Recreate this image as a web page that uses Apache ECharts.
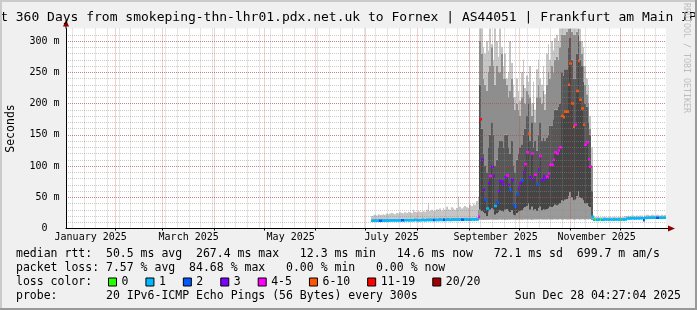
<!DOCTYPE html>
<html><head><meta charset="utf-8">
<script src="https://cdn.jsdelivr.net/npm/echarts@6/dist/echarts.min.js"></script>
<style>html,body{margin:0;padding:0;background:#f0f0f0;}#c{width:697px;height:310px;}</style>
</head><body><div id="c"></div>
<script>
// ---------------- data (x unit: days since 2025-01-02 04:27:04, range 360 days) ----------------
const titleText = 'Last 360 Days from smokeping-thn-lhr01.pdx.net.uk to Fornex | AS44051 | Frankfurt am Main IPv6';
const monthLabels = ['January 2025','March 2025','May 2025','July 2025','September 2025','November 2025'];
const labelDays   = [14.8, 73.6, 134.8, 195.4, 257.8, 318.4];
const monthStarts = [29.81, 57.81, 88.81, 118.81, 149.81, 179.81, 210.81, 241.81, 271.81, 302.81, 332.81];
const firstMonday = 3.81;
const yLabelValues = [0, 50, 100, 150, 200, 250, 300];

const firstDay = 183; // first day with data (early July)

// period 1 (days 183-247): good
const medG1 = [12.4,12.3,12.5,12.4,12.6,12.3,12.5,12.4,12.6,12.5,
  12.8,13.0,12.9,13.1,13.0,12.9,13.2,13.0,13.1,13.0,
  13.2,13.3,13.1,13.4,13.2,13.3,13.5,13.2,13.4,13.3,
  13.5,13.6,13.4,13.7,13.5,13.6,13.8,13.5,13.7,13.6,
  13.8,13.9,13.7,14.0,13.8,13.9,14.1,13.8,14.0,13.9,
  14.1,14.2,14.0,14.3,14.1,14.2,14.4,14.1,14.3,14.2,
  14.4,14.5,14.3,14.6,19.0];
const minG1 = [11.6,11.5,11.7,11.6,11.8,11.5,11.7,11.6,11.8,11.7,
  12.0,12.2,12.1,12.3,12.2,12.1,12.4,12.2,12.3,12.2,
  12.4,12.5,12.3,12.6,12.4,12.5,12.7,12.4,12.6,12.5,
  12.7,12.8,12.6,12.9,12.7,12.8,13.0,12.7,12.9,12.8,
  13.0,13.1,12.9,13.2,13.0,13.1,13.3,13.0,13.2,13.1,
  13.3,13.4,13.2,13.5,13.3,13.4,13.6,13.3,13.5,13.4,
  13.6,13.7,13.5,13.8,14.0];
const midG1 = [15.0,14.9,15.2,15.0,15.3,14.9,15.1,15.0,15.3,15.1,
  15.4,15.7,15.5,15.8,15.6,15.5,15.9,15.6,15.8,15.6,
  15.9,16.0,15.7,16.1,15.9,16.0,16.3,15.9,16.1,16.0,
  16.2,16.4,16.1,16.5,16.3,16.4,16.6,16.2,16.5,16.4,
  16.6,16.8,16.5,16.9,16.6,16.8,17.0,16.6,16.9,16.8,
  17.0,17.1,16.9,17.3,17.0,17.2,17.5,17.0,17.3,17.2,
  17.5,17.7,17.4,18.0,30.0];
const topG1 = [20,21,22,21,23,22,22,23,22,24,
  23,24,25,24,23,25,24,26,25,24,
  26,25,27,26,25,30,27,26,28,27,
  26,28,27,30,41,28,30,28,29,31,
  30,32,29,33,30,35,31,30,34,32,
  30,33,51,35,32,34,36,34,33,38,
  36,40,38,44,51];
const lossG1 = [1,1,1,1,1,2,1,1,1,1,
  1,1,1,1,1,1,1,1,2,1,
  1,1,1,1,1,1,1,1,1,1,
  1,1,1,1,1,1,1,2,1,1,
  1,1,1,2,1,1,1,1,1,1,
  1,1,1,1,2,1,1,1,1,1,
  1,1,1,1,5];

// period 2 (days 248-315): heavy jitter
const medBad = [175,110,62,46,32,73,84,99,84,36,
  42,60,76,75,70,82,85,70,62,78,
  39,35,55,65,73,77,90,103,122,152,
  82,120,78,86,71,95,116,78,84,80,
  83,88,102,102,110,122,120,125,130,180,
  178,187,187,230,264,200,163,166,220,268,
  206,192,166,134,138,111,99,19];
const minBad = [14,14,13.8,14.2,13.9,14.1,14,14.3,14.1,13.9,
  14.2,14,14.3,14.1,14.4,14.2,14,14.3,14.1,14.5,
  14.2,14.4,14.1,14.3,14.5,14.2,14.4,14.6,14.3,14.5,
  14.4,14.2,14.6,14.3,14.5,14.4,14.7,14.5,14.3,14.6,
  14.4,14.7,14.5,14.3,14.6,14.8,14.5,14.4,14.7,14.6,
  14.5,14.8,14.6,14.4,14.7,14.9,14.6,14.5,14.8,14.7,
  14.6,14.9,14.7,14.5,14.8,14.6,14.9,13.6];
const loBad = [30,28,26,24,20,27,30,32,30,22,
  24,26,29,28,27,30,31,28,26,29,
  22,21,25,27,28,29,32,34,36,40,
  30,35,29,31,28,33,35,29,31,30,
  31,32,35,34,36,38,37,38,40,45,
  44,46,47,52,58,50,45,46,52,60,
  50,48,45,40,40,36,34,17];
const hi1Bad = [230,160,120,100,90,130,150,170,150,100,
  110,130,140,140,130,150,150,130,120,140,
  100,90,110,120,130,135,150,160,180,200,
  140,170,130,140,125,150,170,140,145,140,
  145,150,165,165,175,190,190,195,200,250,
  245,255,255,290,305,270,240,240,280,310,
  270,260,235,200,195,170,150,60];
const hi2Bad = [300,280,240,230,220,250,260,290,260,230,
  260,250,250,280,240,240,230,210,220,240,
  210,190,200,190,180,210,230,200,220,215,
  210,180,200,170,210,230,210,200,220,190,
  230,250,240,260,250,270,275,270,290,310,
  310,310,315,320,320,315,310,310,315,320,
  300,280,260,230,215,200,160,100];
const maxBad = [330,330,290,280,300,285,330,295,270,330,
  300,275,330,290,260,280,240,250,300,265,
  230,210,240,220,205,250,270,225,245,235,
  260,200,235,190,255,270,240,230,260,215,
  280,295,270,300,285,305,310,300,330,330,
  330,330,330,330,330,330,330,330,330,330,
  320,300,290,260,240,230,180,130];
const lossBad = [12,3,3,2,1,3,4,3,3,1,
  2,3,3,3,3,3,5,3,2,3,
  2,2,2,3,3,2,3,5,4,7,
  3,5,3,4,2,3,5,3,3,3,
  4,4,5,5,5,5,5,5,5,7,
  7,8,8,8,9,8,7,5,7,9,
  8,7,6,5,5,5,4,1];

// period 3 (days 316-359): good
const medG2 = [14.2,14.3,14.2,14.4,14.3,14.2,14.3,14.4,14.3,14.2,
  14.3,14.4,14.3,14.5,14.4,14.3,14.4,14.5,14.4,14.6,
  16.2,16.3,16.2,16.4,16.3,16.2,16.4,16.3,16.4,16.5,
  13.2,16.8,17.2,17.3,17.2,17.4,17.3,17.2,17.4,17.3,
  17.2,17.4,17.3,17.2];
const minG2 = [13.4,13.5,13.4,13.6,13.5,13.4,13.5,13.6,13.5,13.4,
  13.5,13.6,13.5,13.7,13.6,13.5,13.6,13.7,13.6,13.8,
  15.4,15.5,15.4,15.6,15.5,15.4,15.6,15.5,15.6,15.7,
  12.4,16.0,16.4,16.5,16.4,16.6,16.5,16.4,16.6,16.5,
  16.4,16.6,16.5,16.4];
const midG2 = [15.8,15.9,15.8,16.0,15.9,15.8,15.9,16.0,15.9,15.8,
  15.9,16.0,15.9,16.1,16.0,15.9,16.0,16.1,16.0,16.2,
  17.8,17.9,17.8,18.0,17.9,17.8,18.0,17.9,18.0,18.1,
  14.8,18.4,18.8,18.9,18.8,19.0,18.9,18.8,19.0,18.9,
  18.8,19.0,18.9,18.8];
const topG2 = [18,19,18,19,18,18,19,19,18,18,
  19,18,19,19,18,19,19,18,19,20,
  20,21,20,21,21,20,21,20,21,21,
  17,21,22,22,21,22,22,21,22,22,
  21,22,21,22];
const lossG2 = [1,0,1,1,0,1,1,1,1,0,
  1,1,1,1,1,1,0,1,1,1,
  1,1,1,1,1,1,1,1,1,1,
  2,1,1,1,1,1,1,1,2,1,
  1,1,0,1];

const lossCats = [
  {name:'0', lo:0, hi:0, color:'#26ff00'},
  {name:'1', lo:1, hi:1, color:'#00b8ff'},
  {name:'2', lo:2, hi:2, color:'#0059ff'},
  {name:'3', lo:3, hi:3, color:'#7e00ff'},
  {name:'4-5', lo:4, hi:5, color:'#ff00ff'},
  {name:'6-10', lo:6, hi:10, color:'#ff5500'},
  {name:'11-19', lo:11, hi:19, color:'#ff0000'},
  {name:'20/20', lo:20, hi:20, color:'#a10000'}
];

const statsLine1 = 'median rtt:  50.5 ms avg  267.4 ms max   12.3 ms min   14.6 ms now   72.1 ms sd  699.7 m am/s';
const statsLine2 = 'packet loss: 7.57 % avg  84.68 % max   0.00 % min   0.00 % now';
const lossLabel  = 'loss color:';
const probeLine  = 'probe:       20 IPv6-ICMP Echo Pings (56 Bytes) every 300s';
const dateLine   = 'Sun Dec 28 04:27:04 2025';

// ---------------- build ----------------
const MONO = "'DejaVu Sans Mono', monospace";
const smokeColors = ['#9a9a9a', '#454545', '#575757', '#8e8e8e', '#c6c6c6'];

const smokeRows = [];
const medRows = [];
function addGood(med, mn, mid, top, loss, start) {
  for (let i = 0; i < med.length; i++) {
    smokeRows.push([start + i, mn[i], med[i], med[i], med[i], mid[i], top[i]]);
    medRows.push([start + i, med[i], loss[i]]);
  }
}
addGood(medG1, minG1, midG1, topG1, lossG1, firstDay);
for (let i = 0; i < medBad.length; i++) {
  const d = firstDay + medG1.length + i;
  smokeRows.push([d, minBad[i], loBad[i], medBad[i], hi1Bad[i], hi2Bad[i], maxBad[i]]);
  medRows.push([d, medBad[i], lossBad[i]]);
}
addGood(medG2, minG2, midG2, topG2, lossG2, firstDay + medG1.length + medBad.length);

const weekTicks = [];
for (let t = firstMonday; t < 360; t += 7) weekTicks.push(t);
const minorY = []; for (let v = 10; v <= 310; v += 10) minorY.push(v);

function smokeItem(params, api) {
  const d = api.value(0);
  const xa = Math.round(api.coord([d, 0])[0]);
  const xb = Math.round(api.coord([d + 1, 0])[0]);
  const children = [];
  for (let k = 0; k < 5; k++) {
    const v0 = api.value(k + 1), v1 = api.value(k + 2);
    if (!(v1 > v0)) continue;
    const y0 = api.coord([d, v0])[1], y1 = api.coord([d, v1])[1];
    children.push({type:'rect', shape:{x:xa, y:y1, width:xb - xa, height:y0 - y1}, style:{fill:smokeColors[k]}});
  }
  return {type:'group', children};
}
function medItem(params, api) {
  const d = api.value(0), v = api.value(1);
  const xa = Math.round(api.coord([d, 0])[0]);
  const xb = Math.round(api.coord([d + 1, 0])[0]);
  const y = api.coord([d, v])[1];
  return {type:'rect', shape:{x:xa, y:y - 1.25, width:xb - xa + 1, height:2.5}, style:{fill:api.visual('color')}};
}

const series = [{
  type:'custom', name:'smoke', renderItem:smokeItem, data:smokeRows, clip:true,
  xAxisIndex:2, yAxisIndex:1, dimensions:['d','min','lo','med','hi1','hi2','max'],
  encode:{x:0, y:[1,6]}, silent:true, z:2
}];
lossCats.forEach(c => {
  series.push({
    type:'custom', name:c.name, renderItem:medItem, clip:true, xAxisIndex:2, yAxisIndex:1,
    itemStyle:{color:c.color}, z:2, silent:true,
    encode:{x:0, y:1},
    data: medRows.filter(r => r[2] >= c.lo && r[2] <= c.hi).map(r => [r[0], r[1]])
  });
});

const minorGrid = {color:'rgba(140,140,140,0.45)', width:1, type:[1,1]};
const majorGrid = {color:'rgba(200,40,40,0.45)', width:1, type:[1,1]};

const chart = echarts.init(document.getElementById('c'), null, {renderer:'canvas'});
const option = {
  animation:false,
  backgroundColor:'#f0f0f0',
  grid:{left:66, right:31, top:28.5, bottom:81.5, show:true, backgroundColor:'#ffffff', borderWidth:0, containLabel:false, outerBoundsMode:'none'},
  legend:{
    left:108, top:276, padding:0, itemWidth:8, itemHeight:8, itemGap:17, icon:'rect', selectedMode:false,
    data: lossCats.map(c => c.name),
    itemStyle:{borderColor:'#000', borderWidth:1},
    textStyle:{fontFamily:MONO, fontSize:11.5, color:'#000', padding:[0,0,0,0]}
  },
  xAxis:[
    {type:'value', min:0, max:360, position:'bottom', z:3,
     axisLine:{show:false}, axisLabel:{show:false},
     axisTick:{show:false, customValues:weekTicks},
     splitLine:{show:true, lineStyle:minorGrid}},
    {type:'value', min:0, max:360, position:'bottom', z:3,
     axisLine:{show:false}, axisLabel:{show:false},
     axisTick:{show:true, length:2, customValues:monthStarts, lineStyle:{color:'#000'}},
     splitLine:{show:true, lineStyle:majorGrid}},
    {type:'value', min:0, max:360, position:'bottom', z:3,
     axisLine:{show:true, onZero:false, lineStyle:{color:'#000', width:1}},
     axisTick:{show:false},
     splitLine:{show:false},
     axisLabel:{show:true, customValues:labelDays, margin:4, color:'#000', fontFamily:MONO, fontSize:10,
       formatter:(v) => { let bi = 0, bd = 1e9; labelDays.forEach((x, i) => { if (Math.abs(x - v) < bd) { bd = Math.abs(x - v); bi = i; } }); return monthLabels[bi]; }}}
  ],
  yAxis:[
    {type:'value', min:0, max:320, position:'left', z:3,
     axisLine:{show:false}, axisLabel:{show:false},
     axisTick:{show:false, customValues:minorY},
     splitLine:{show:true, lineStyle:minorGrid}},
    {type:'value', min:0, max:320, position:'left', z:3,
     name:'Seconds', nameLocation:'middle', nameGap:49, nameRotate:90,
     nameTextStyle:{fontFamily:MONO, fontSize:11.5, color:'#000'},
     axisLine:{show:true, onZero:false, lineStyle:{color:'#000', width:1}},
     axisTick:{show:false, customValues:yLabelValues.slice(1)},
     splitLine:{show:true, lineStyle:majorGrid},
     axisLabel:{show:true, customValues:yLabelValues, margin:6.5, color:'#000', fontFamily:MONO, fontSize:10,
       formatter:(v) => v === 0 ? '0  ' : (v + ' m')}}
  ],
  series: series
};
chart.setOption(option);

// decorations derived from the grid geometry
const p00 = chart.convertToPixel({xAxisIndex:2, yAxisIndex:1}, [0, 0]);
const p11 = chart.convertToPixel({xAxisIndex:2, yAxisIndex:1}, [360, 320]);
const xl = p00[0], yb = p00[1], xr = p11[0], yt = p11[1];
const W = 697, H = 310;
const graphics = [
  {type:'line', shape:{x1:xr, y1:yb, x2:xr + 3, y2:yb}, style:{stroke:'#000', lineWidth:1}, z:10},
  {type:'polygon', shape:{points:[[xr + 2, yb - 3], [xr + 9, yb], [xr + 2, yb + 3]]}, style:{fill:'#8b0000'}, z:10},
  {type:'line', shape:{x1:xl, y1:yt, x2:xl, y2:yt - 3}, style:{stroke:'#000', lineWidth:1}, z:10},
  {type:'polygon', shape:{points:[[xl - 3, yt - 2], [xl, yt - 9], [xl + 3, yt - 2]]}, style:{fill:'#8b0000'}, z:10},
  {type:'text', x:W / 2 - 4, y:18, style:{text:titleText, font:'13px ' + MONO, fill:'#000', align:'center', verticalAlign:'middle'}, z:10},
  {type:'text', x:686, y:3, rotation:-Math.PI / 2, style:{text:'RRDTOOL / TOBI OETIKER', font:'8.3px ' + MONO, fill:'#bdbdbd', align:'left', verticalAlign:'middle'}, z:10},
  {type:'text', x:16, y:254, style:{text:statsLine1, font:'11.5px ' + MONO, fill:'#000', align:'left', verticalAlign:'middle'}, z:10},
  {type:'text', x:16, y:268, style:{text:statsLine2, font:'11.5px ' + MONO, fill:'#000', align:'left', verticalAlign:'middle'}, z:10},
  {type:'text', x:16, y:282, style:{text:lossLabel, font:'11.5px ' + MONO, fill:'#000', align:'left', verticalAlign:'middle'}, z:10},
  {type:'text', x:16, y:296, style:{text:probeLine, font:'11.5px ' + MONO, fill:'#000', align:'left', verticalAlign:'middle'}, z:10},
  {type:'text', x:681, y:296, style:{text:dateLine, font:'11.5px ' + MONO, fill:'#000', align:'right', verticalAlign:'middle'}, z:10},
  {type:'rect', shape:{x:0, y:0, width:W, height:2}, style:{fill:'#cbcbcb'}, z:11},
  {type:'rect', shape:{x:0, y:0, width:2, height:H}, style:{fill:'#cbcbcb'}, z:11},
  {type:'rect', shape:{x:W - 2, y:0, width:2, height:H}, style:{fill:'#999999'}, z:11},
  {type:'rect', shape:{x:0, y:H - 2, width:W, height:2}, style:{fill:'#999999'}, z:11}
];
chart.setOption({graphic:graphics});
</script></body></html>
